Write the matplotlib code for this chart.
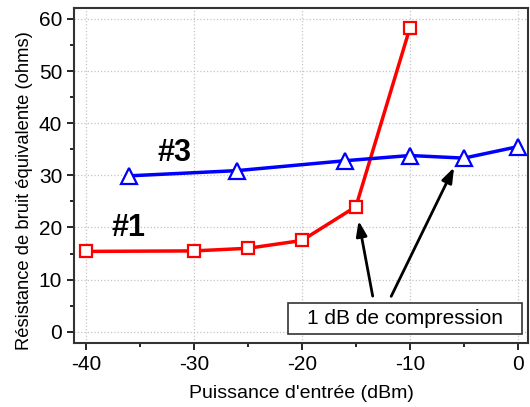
import matplotlib
matplotlib.use("Agg")
import matplotlib.pyplot as plt
from matplotlib.patches import Rectangle

plt.rcParams['font.family'] = ['Liberation Sans', 'DejaVu Sans']
plt.rcParams['axes.unicode_minus'] = False

x1 = [-40, -30, -25, -20, -15, -10]
y1 = [15.4, 15.5, 16.0, 17.5, 24.0, 58.3]
x3 = [-36, -26, -16, -10, -5, 0]
y3 = [29.9, 30.9, 32.8, 33.8, 33.3, 35.5]
xticks = [-40, -30, -20, -10, 0]
yticks = [0, 10, 20, 30, 40, 50, 60]

fig = plt.figure(figsize=(5.3, 4.07), dpi=100)
ax = fig.add_axes([74/530, 1-343/407, (528-74)/530, (343-8)/407])

ax.plot(x1, y1, color='red', lw=2.5, marker='s', ms=9, mfc='white', mec='red', mew=1.6, zorder=3)
ax.plot(x3, y3, color='blue', lw=2.5, marker='^', ms=11.5, mfc='white', mec='blue', mew=1.6, zorder=3)

ax.set_xlim(-41.1, 0.93)
ax.set_ylim(-2.17, 62.1)
ax.set_xticks(xticks)
ax.set_yticks(yticks)
ax.set_xticks([-35, -25, -15, -5], minor=True)
ax.set_yticks([5, 15, 25, 35, 45, 55], minor=True)
ax.tick_params(which='both', direction='out', labelsize=15, width=1.2)
ax.tick_params(which='major', length=5)
ax.tick_params(which='minor', length=3)
ax.grid(True, which='major', linestyle=':', color='#c4c4c4', lw=0.9)
for s in ax.spines.values():
    s.set_linewidth(1.5)
    s.set_color('#333333')

ax.set_xlabel("Puissance d'entrée (dBm)", fontsize=14, labelpad=8)
ax.set_ylabel("Résistance de bruit équivalente (ohms)", fontsize=13.2)
ax.yaxis.set_label_coords(-0.09, 0.455)

ax.text(-31.8, 34.3, '#3', fontsize=22, fontweight='bold', ha='center', va='center')
ax.text(-36.1, 19.9, '#1', fontsize=22, fontweight='bold', ha='center', va='center')

ax.add_patch(Rectangle((-21.3, -0.44), 21.67, 6.0, fc='white', ec='#333333', lw=1.2, zorder=5))
ax.text(-10.46, 2.55, '1 dB de compression', fontsize=15, ha='center', va='center', zorder=6)
ax.annotate('', xy=(-14.8, 21.8), xytext=(-13.4, 6.3),
            arrowprops=dict(arrowstyle='-|>,head_length=0.9,head_width=0.32', color='black', lw=2.0), zorder=4)
ax.annotate('', xy=(-5.8, 32.0), xytext=(-11.85, 6.3),
            arrowprops=dict(arrowstyle='-|>,head_length=0.9,head_width=0.32', color='black', lw=2.0), zorder=4)

fig.savefig('out.png', dpi=100)
